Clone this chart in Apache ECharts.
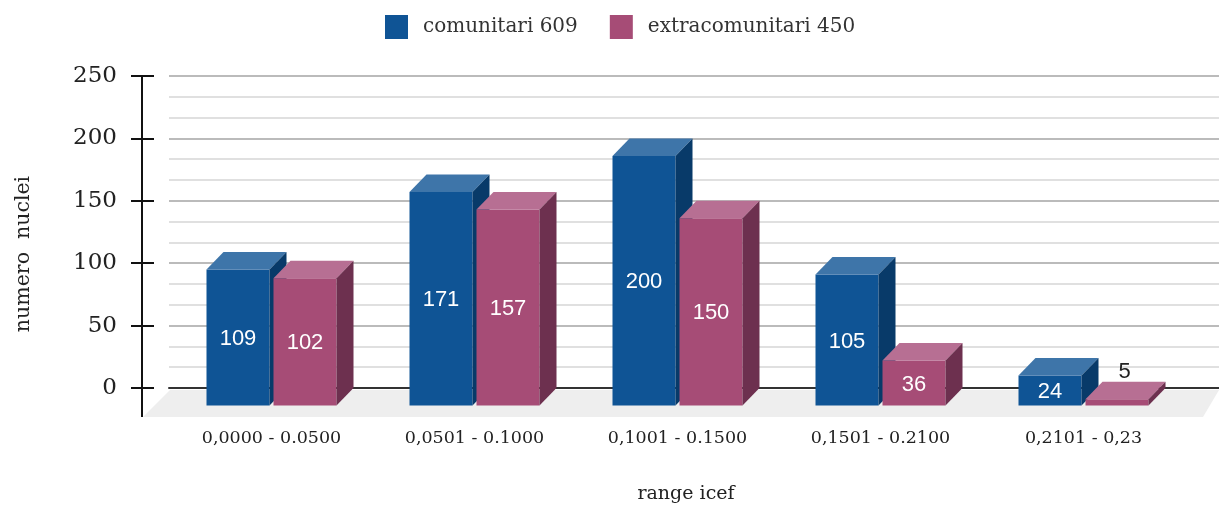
<!DOCTYPE html>
<html><head><meta charset="utf-8">
<style>html,body{margin:0;padding:0;background:#fff}#c{width:1219px;height:506px}</style>
<script src="https://cdn.jsdelivr.net/npm/echarts@6/dist/echarts.min.js"></script>
</head><body><div id="c"></div>
<script>
const categories = ['0,0000 - 0.0500','0,0501 - 0.1000','0,1001 - 0.1500','0,1501 - 0.2100','0,2101 - 0,23'];
const comunitari = [109,171,200,105,24];
const extracomunitari = [102,157,150,36,5];
const yTicks = {min:0,max:250,interval:50};
const serif = '"DejaVu Serif"';
const DX = 17, DY = 17.5, BAR_RATIO = 63/203, GAP = 4;

function bar3d(colors, side){
  return function(params, api){
    const cat = api.value(0), val = api.value(1);
    const band = api.size([1,0])[0], w = band*BAR_RATIO;
    const c = api.coord([cat,val]), z = api.coord([cat,0]);
    const x0 = side<0 ? c[0]-GAP/2-w : c[0]+GAP/2, x1 = x0+w;
    const top = c[1]+DY, bot = z[1]+DY;
    const poly = (pts,fill)=>({type:'polygon',shape:{points:pts},style:{fill}});
    const h = bot-top, inside = h>=25;
    return {type:'group',children:[
      poly([[x0,bot],[x1,bot],[x1,top],[x0,top]],colors.front),
      poly([[x0,top],[x1,top],[x1+DX,top-DY],[x0+DX,top-DY]],colors.top),
      poly([[x1,bot],[x1+DX,bot-DY],[x1+DX,top-DY],[x1,top]],colors.side),
      {type:'text',style:{text:String(val),
        x: inside?(x0+x1)/2:(x0+x1)/2+DX/2-1,
        y: inside?(top+bot)/2+1.5:top-DY-10,
        fill: inside?'#fff':'#222',
        font:'22px "Liberation Sans"',align:'center',verticalAlign:'middle'}}
    ]};
  };
}
const blue={front:'#0F5495',top:'#3E75A9',side:'#083A69'};
const pink={front:'#A64C76',top:'#B76F93',side:'#6D304F'};

const chart=echarts.init(document.getElementById('c'),null,{renderer:'canvas'});
chart.setOption({
  animation:false,backgroundColor:'#fff',
  legend:{top:15,left:385,padding:0,itemWidth:23,itemHeight:24,itemGap:32,icon:'rect',
    textStyle:{fontFamily:serif,fontSize:20,color:'#333',padding:[2,0,0,10]},
    data:['comunitari 609','extracomunitari 450']},
  grid:[
    {left:169,top:76,width:1050,height:312},
    {left:170,top:76,width:1015,height:312}
  ],
  xAxis:[
    {type:'value',gridIndex:0,min:0,max:1,axisLabel:{show:false},axisTick:{show:false},splitLine:{show:false},
     axisLine:{show:true,lineStyle:{color:'#333',width:2}}},
    {type:'category',gridIndex:1,data:categories,axisLine:{show:false},axisTick:{show:false},
     axisLabel:{margin:41,fontFamily:serif,fontSize:17.5,color:'#222'}}
  ],
  yAxis:[
    {type:'value',gridIndex:0,min:yTicks.min,max:yTicks.max,interval:yTicks.interval,offset:15,
     axisLine:{show:false,onZero:false},
     axisTick:{show:true,length:23,lineStyle:{color:'#111',width:2}},
     minorTick:{show:false,splitNumber:3},
     axisLabel:{margin:37,fontFamily:serif,fontSize:23,color:'#222',padding:[3,0,0,0]},
     splitLine:{show:true,lineStyle:{color:'#BBBBBB',width:2}},
     minorSplitLine:{show:true,lineStyle:{color:'#E0E0E0',width:2}}},
    {type:'value',gridIndex:1,min:yTicks.min,max:yTicks.max,show:false}
  ],
  graphic:[
    {type:'polygon',z:1,shape:{points:[[143,417],[170,390],[1219,390],[1203,417]]},style:{fill:'#EEEEEE'}},
    {type:'line',z:5,shape:{x1:142,y1:76,x2:142,y2:417},style:{stroke:'#111',lineWidth:2}},
    {type:'text',z:5,x:24,y:254,rotation:Math.PI/2,style:{text:'numero  nuclei',font:'20.5px '+serif,fill:'#222',align:'center',verticalAlign:'middle'}},
    {type:'text',z:5,x:686,y:494,style:{text:'range icef',font:'19px '+serif,fill:'#222',align:'center',verticalAlign:'middle'}}
  ],
  series:[
    {name:'comunitari 609',type:'custom',xAxisIndex:1,yAxisIndex:1,z:3,itemStyle:{color:blue.front},
     data:comunitari.map((v,i)=>[i,v]),renderItem:bar3d(blue,-1)},
    {name:'extracomunitari 450',type:'custom',xAxisIndex:1,yAxisIndex:1,z:4,itemStyle:{color:pink.front},
     data:extracomunitari.map((v,i)=>[i,v]),renderItem:bar3d(pink,1)}
  ]
});
</script></body></html>
